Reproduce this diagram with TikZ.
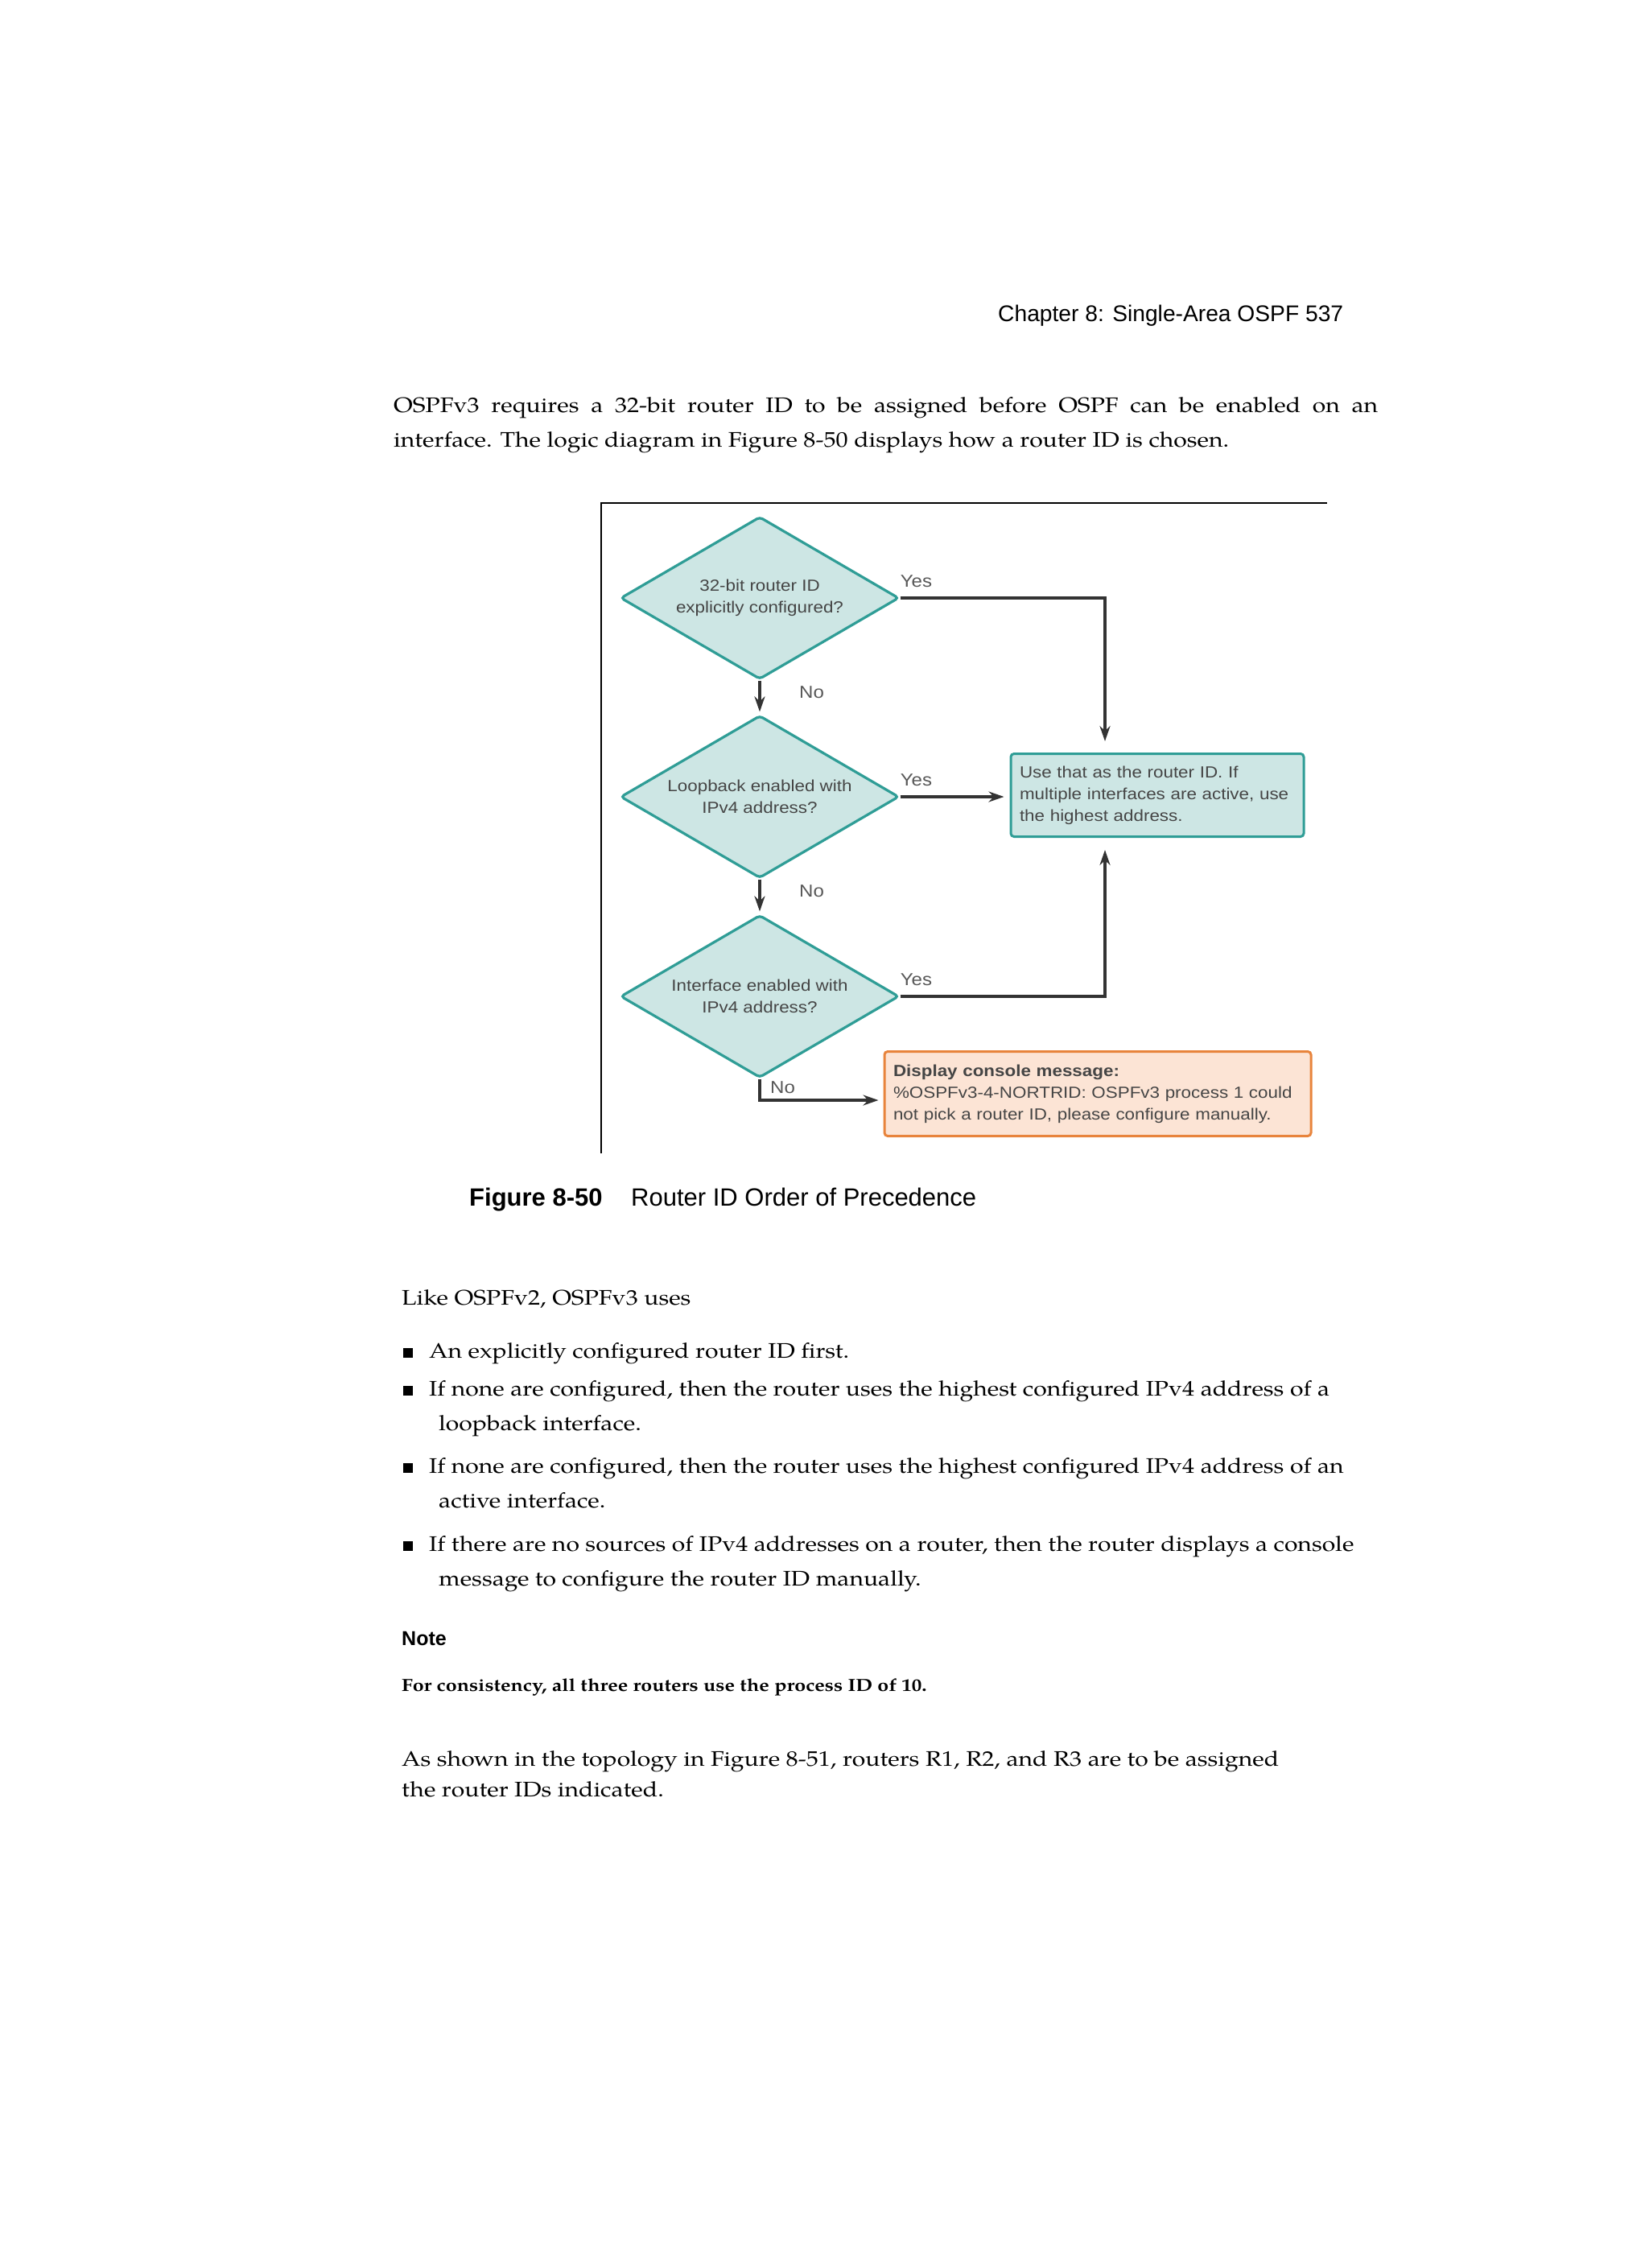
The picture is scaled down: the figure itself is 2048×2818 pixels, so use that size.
\documentclass[tikz,border=0pt]{standalone}
\usepackage{fontspec}
\setmainfont{TeX Gyre Pagella}[FakeStretch=1.15]
\newfontfamily\headfont{Liberation Sans}
\newfontfamily\chartfont{Liberation Sans}[FakeStretch=1.12]
\usetikzlibrary{arrows.meta,shapes.geometric}

\definecolor{qfill}{HTML}{CDE6E4}
\definecolor{qedge}{HTML}{2F9D96}
\definecolor{warnfill}{HTML}{FCE4D5}
\definecolor{warnedge}{HTML}{E8843C}
\definecolor{ink}{HTML}{454545}
\definecolor{wire}{HTML}{333333}

\begin{document}
\begin{tikzpicture}[x=1pt,y=-1pt,>={Stealth[length=19pt,width=13pt]},
  body/.style={anchor=base west,inner sep=0pt,
    font=\fontsize{26.2}{43}\selectfont},
  head/.style={anchor=base west,inner sep=0pt,
    font=\headfont\fontsize{28.2}{34}\selectfont},
  caption/.style={anchor=base west,inner sep=0pt,
    font=\headfont\fontsize{31}{36}\selectfont},
  question/.style={diamond,draw=qedge,fill=qfill,line width=3.2pt,
    minimum width=346pt,minimum height=202pt,aspect=1.7,inner sep=0pt,
    rounded corners=4pt,align=center,text=ink,
    font=\chartfont\fontsize{20}{27}\selectfont},
  outcome/.style={rectangle,rounded corners=4pt,line width=3pt,
    inner sep=11pt,align=left,text=ink,
    font=\chartfont\fontsize{20}{27}\selectfont},
  answer/.style={inner sep=0pt,text=ink!90,
    font=\chartfont\fontsize{21.5}{24}\selectfont},
  flow/.style={wire,line width=3.4pt},
  bulletsq/.style={fill=black,minimum size=12pt,inner sep=0pt,anchor=south west}]
  % page size and white paper
  \useasboundingbox (0,0) rectangle (2048,2818);
  \fill[white] (0,0) rectangle (2048,2818);

  \node[head] (hdr) at (1240,399) {Chapter 8: Single-Area OSPF 537};

  \node[body] (intro1) at (489,512)
    {\makebox[1223pt][s]{OSPFv3 requires a 32-bit router ID to be assigned before OSPF can be enabled on an}};
  \node[body] (intro2) at (489,555)
    {interface. The logic diagram in Figure 8-50 displays how a router ID is chosen.};

  % figure frame (top and left rule only)
  \draw[black,line width=2.6pt] (747,1433) -- (747,625) -- (1649,625);

  \node[question] (q1) at (944,743) {32-bit router ID\\explicitly configured?};
  \node[question] (q2) at (944,990) {Loopback enabled with\\IPv4 address?};
  \node[question] (q3) at (944,1238) {Interface enabled with\\IPv4 address?};

  \node[outcome,draw=qedge,fill=qfill,minimum width=364pt,minimum height=103pt,
    text width=342pt] (use) at (1438,988)
    {Use that as the router ID. If\\multiple interfaces are active, use\\the highest address.};
  \node[outcome,draw=warnedge,fill=warnfill,minimum width=530pt,minimum height=105pt,
    text width=508pt] (msg) at (1364,1359)
    {\textbf{Display console message:}\\\%OSPFv3-4-NORTRID: OSPFv3 process 1 could\\not pick a router ID, please configure manually.};

  % the Yes branches meet on one rail
  \coordinate (rail) at (1373,0);
  \draw[flow,->,shorten >=14pt] (q1.east) -| (rail |- use.north);
  \draw[flow,->,shorten >=7pt] (q2.east) -- (q2.east -| use.west);
  \draw[flow,->,shorten >=15pt] (q3.east) -| (rail |- use.south);

  \draw[flow,->,shorten >=3pt] (q1.south) -- (q2.north);
  \draw[flow,->,shorten >=3pt] (q2.south) -- (q3.north);
  \draw[flow,->,shorten >=6pt] (q3.south) |- ([yshift=-8pt]msg.west);

  \node[answer,anchor=south west] (yes1) at ([yshift=13pt]q1.east) {Yes};
  \node[answer,anchor=south west] (yes2) at ([yshift=13pt]q2.east) {Yes};
  \node[answer,anchor=south west] (yes3) at ([yshift=13pt]q3.east) {Yes};
  \node[answer,anchor=north west] (no1) at ([xshift=49pt,yshift=-7pt]q1.south) {No};
  \node[answer,anchor=north west] (no2) at ([xshift=49pt,yshift=-7pt]q2.south) {No};
  \node[answer,anchor=north west] (no3) at ([xshift=13pt,yshift=-3pt]q3.south) {No};

  \node[caption] (figno) at (583,1498) {\bfseries Figure 8-50};
  \node[caption] (figtitle) at (784,1498) {Router ID Order of Precedence};

  \node[body] (like) at (499,1621) {Like OSPFv2, OSPFv3 uses};

  \foreach \y/\name in {1687/sq1,1734/sq2,1830/sq3,1927/sq4}
    \node[bulletsq] (\name) at (501,\y) {};

  \node[body] (item1) at (533,1687) {An explicitly configured router ID first.};
  \node[body] (item2) at (533,1734)
    {If none are configured, then the router uses the highest configured IPv4 address of a};
  \node[body] (item2b) at (545,1777) {loopback interface.};
  \node[body] (item3) at (533,1830)
    {If none are configured, then the router uses the highest configured IPv4 address of an};
  \node[body] (item3b) at (545,1873) {active interface.};
  \node[body] (item4) at (533,1927)
    {If there are no sources of IPv4 addresses on a router, then the router displays a console};
  \node[body] (item4b) at (545,1970) {message to configure the router ID manually.};

  \node[anchor=base west,inner sep=0pt,font=\headfont\bfseries\fontsize{25}{30}\selectfont]
    (note) at (499,2044) {Note};
  \node[anchor=base west,inner sep=0pt,font=\bfseries\fontsize{21.8}{24}\selectfont]
    (notetext) at (499,2101) {For consistency, all three routers use the process ID of 10.};

  \node[body] (after1) at (499,2194)
    {As shown in the topology in Figure 8-51, routers R1, R2, and R3 are to be assigned};
  \node[body] (after2) at (499,2232) {the router IDs indicated.};
\end{tikzpicture}
\end{document}
